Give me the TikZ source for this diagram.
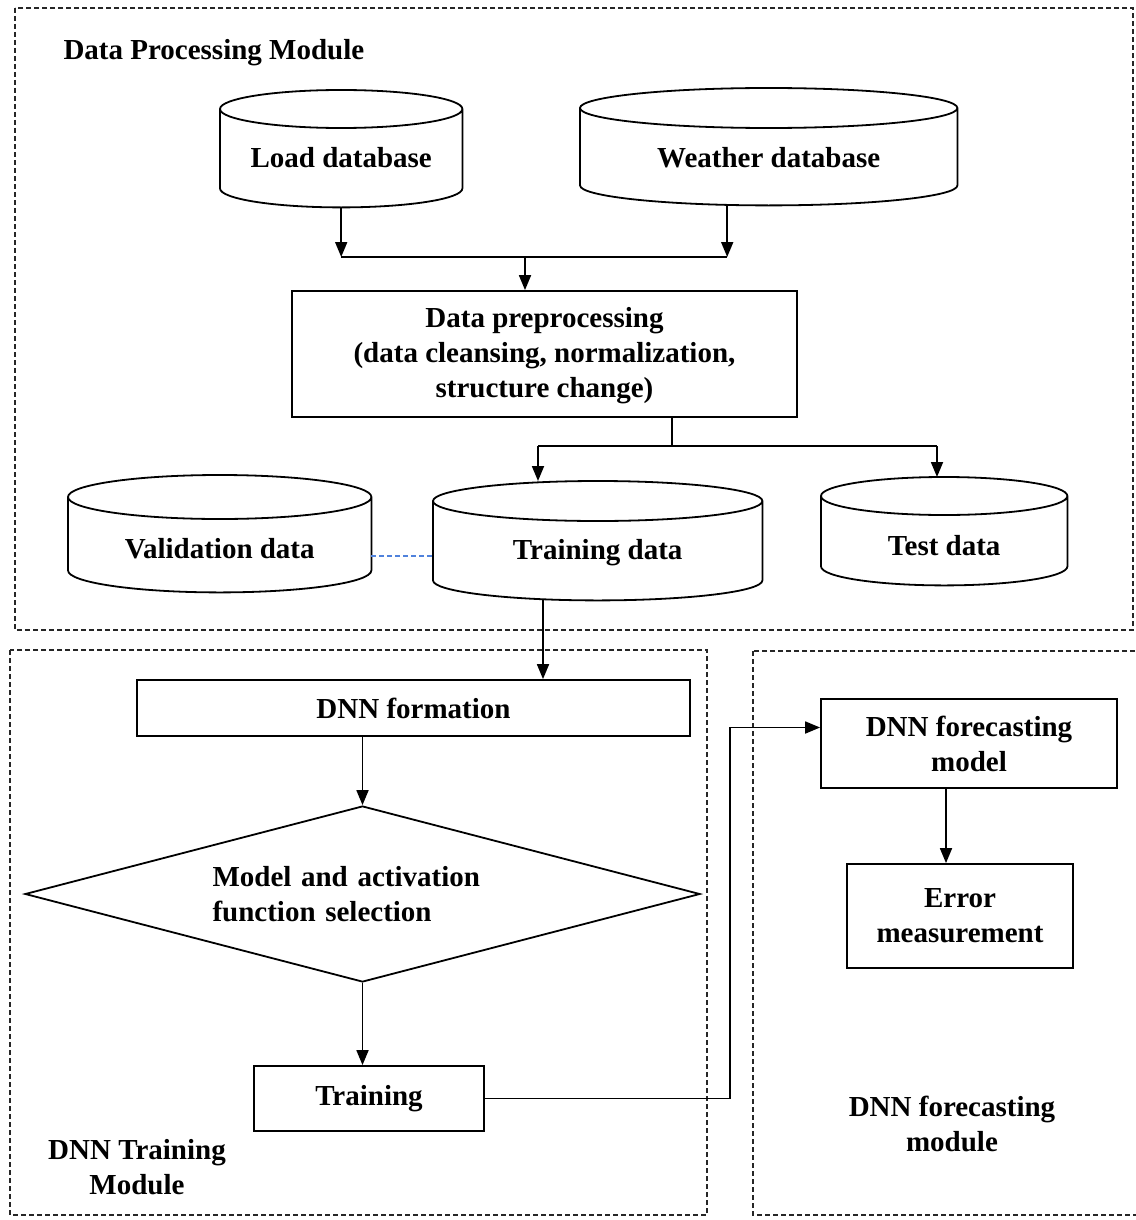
\documentclass[tikz,border=0pt]{standalone}
\usepackage{fontspec}
\setmainfont{Liberation Serif}
\usetikzlibrary{arrows.meta,shapes.geometric,calc}

\definecolor{pairblue}{RGB}{80,130,220}

\tikzset{
  every node/.style={font=\fontsize{29}{35}\selectfont\bfseries},
  proc/.style={draw, line width=1.8pt, rectangle, inner sep=0pt, align=center},
  dbase/.style={inner sep=0pt, anchor=north west},
  decide/.style={draw, line width=1.8pt, diamond, inner sep=0pt, aspect=3.84,
    align=left, text width=300pt},
  arr/.style={line width=1.8pt, -{Triangle[length=15pt,width=12pt]}},
  link/.style={line width=1.8pt},
  group/.style={line width=1.4pt, dash pattern=on 5pt off 3pt, draw=black!85},
  pairing/.style={line width=1.4pt, dash pattern=on 5pt off 3pt, draw=pairblue},
}

% database drum drawn around a named node: #1 node, #2 half height of the lid
\newcommand\drumoutline[2]{%
  \draw[line width=1.8pt] let \p1=(#1.north west), \p2=(#1.south east),
      \n1={(\x2-\x1)/2} in
    (\x1,\y1-#2) -- (\x1,\y2+#2)
    arc[start angle=180, end angle=360, x radius=\n1, y radius=#2]
    -- (\x2,\y1-#2)
    (\x1/2+\x2/2,\y1-#2) ellipse [x radius=\n1, y radius=#2];
}

\begin{document}
\begin{tikzpicture}[x=1pt, y=-1pt]
  \useasboundingbox (0,0) rectangle (1135,1220);
  \fill[white] (0,0) rectangle (1135,1220);

  % module frames
  \draw[group] (15,8) rectangle (1133,630);
  \draw[group] (10,650) rectangle (707,1215);
  \draw[group] (753,651) rectangle (1140,1215);

  % data processing module
  \node[anchor=base west] (title) at (60,60) {Data Processing Module};

  \node[dbase, minimum width=242pt, text height=77pt, text depth=40pt] (load) at (220,90) {Load database};
  \node[dbase, minimum width=377pt, text height=79pt, text depth=38pt] (weather) at (580,88) {Weather database};
  \drumoutline{load}{19pt}
  \drumoutline{weather}{20pt}

  \node[proc, minimum width=505pt, minimum height=126pt] (prep) at (544.5,354)
    {\rule{0pt}{24pt}Data preprocessing\\(data cleansing, normalization,\\structure change)};

  \node[dbase, minimum width=303pt, text height=83pt, text depth=34pt] (valid) at (68,475) {Validation data};
  \node[dbase, minimum width=329pt, text height=78pt, text depth=41pt] (train) at (433,481) {Training data};
  \node[dbase, minimum width=246pt, text height=78pt, text depth=30pt] (test) at (821,477) {Test data};
  \drumoutline{valid}{22pt}
  \drumoutline{train}{20pt}
  \drumoutline{test}{19pt}

  % DNN training module
  \node[proc, minimum width=553pt, minimum height=56pt] (dnn) at (413.5,708) {DNN formation};
  \node[decide, minimum width=675pt, minimum height=176pt] (dia) at (362.5,894)
    {Model and activation\\function selection};
  \node[proc, minimum width=230pt, minimum height=65pt] (trn) at (369,1098.5) {Training};
  \node[align=center] (trmod) at (137,1167) {DNN Training\\Module};

  % DNN forecasting module
  \node[proc, minimum width=296pt, minimum height=89pt] (fm) at (969,743.5) {DNN forecasting\\model};
  \node[proc, minimum width=226pt, minimum height=104pt] (err) at (960,916) {Error\\measurement};
  \node[align=center] (fcmod) at (952,1124) {DNN forecasting\\module};

  % merging the two databases
  \coordinate (jtop) at (525,257);
  \draw[arr] (load.south) -- (load.south |- jtop);
  \draw[arr] ([xshift=-41.5pt]weather.south) -- ([xshift=-41.5pt]weather.south |- jtop);
  \draw[link] (load.south |- jtop) -- ([xshift=-41.5pt]weather.south |- jtop);
  \draw[arr] (jtop) -- (jtop |- prep.north);

  % splitting into data sets
  \coordinate (jmid) at (672,446);
  \coordinate (sTrain) at (538,446);
  \coordinate (sTest) at (937,446);
  \draw[link] (prep.south -| jmid) -- (jmid);
  \draw[link] (sTrain) -- (sTest);
  \draw[arr] (sTrain) -- (sTrain |- train.north);
  \draw[arr] (sTest) -- (sTest |- test.north);
  \draw[pairing] (valid.mid east) -- (valid.mid east -| train.west);

  % training flow
  \coordinate (xdown) at (543,0);
  \draw[arr] (xdown |- train.south) -- (xdown |- dnn.north);
  \draw[arr] (dia.north |- dnn.south) -- (dia.north);
  \draw[arr] (dia.south) -- (dia.south |- trn.north);

  % hand-over to forecasting
  \coordinate (bend) at (730,0);
  \draw[arr] (trn.east) -- (trn.east -| bend) |- ([yshift=16pt]fm.west);
  \draw[arr] ([xshift=-23pt]fm.south) -- ([xshift=-23pt]fm.south |- err.north);
\end{tikzpicture}
\end{document}
